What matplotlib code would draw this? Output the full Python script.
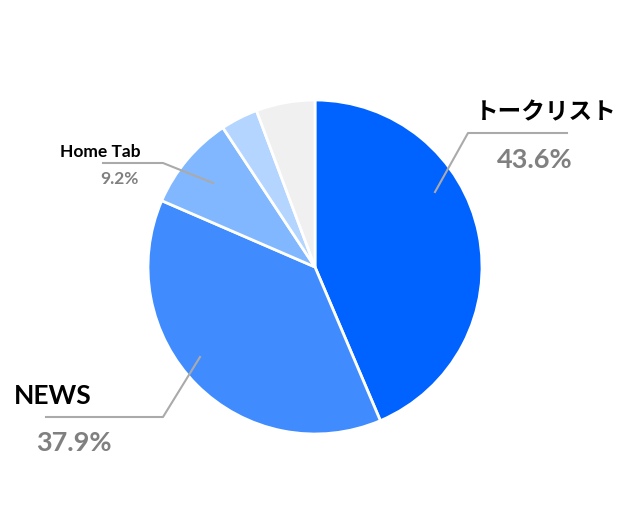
import matplotlib.pyplot as plt

# share of views by entry point
labels = ["トークリスト", "NEWS", "Home Tab", "その他A", "その他B"]
values = [43.6, 37.9, 9.2, 3.6, 5.7]
colors = ["#0062ff", "#408cff", "#80b7ff", "#b3d5ff", "#f0f0f0"]

plt.rcParams['font.family'] = ['Lato', 'Noto Sans CJK JP', 'DejaVu Sans']

W, H = 628, 511
fig = plt.figure(figsize=(W / 100, H / 100), dpi=100)
ax = fig.add_axes([0, 0, 1, 1])
ax.set_xlim(0, W)
ax.set_ylim(0, H)
ax.set_aspect('equal')
ax.axis('off')

def Y(py):
    return H - py

ax.pie(values, colors=colors, startangle=90, counterclock=False,
       center=(315, Y(267)), radius=167,
       wedgeprops=dict(edgecolor='white', linewidth=2))
ax.set_xlim(0, W)
ax.set_ylim(0, H)

line_kw = dict(color='#aaaaaa', lw=1.5)

# トークリスト
ax.plot([435, 468, 567], [Y(192), Y(133), Y(133)], **line_kw)
ax.text(475, Y(112), labels[0], fontsize=17, fontweight='bold', color='black',
        va='center', ha='left', family=['Noto Sans CJK JP', 'DejaVu Sans'])
ax.text(535, Y(160), f"{values[0]}%", fontsize=19.5, fontweight='bold', color='#808080',
        va='center', ha='center')

# NEWS
ax.plot([200, 163, 46], [Y(357), Y(417), Y(417)], **line_kw)
ax.text(14, Y(396), labels[1], fontsize=19, fontweight='bold', color='black',
        va='center', ha='left')
ax.text(74, Y(443), f"{values[1]}%", fontsize=19.5, fontweight='bold', color='#808080',
        va='center', ha='center')

# Home Tab
ax.plot([213, 163, 103], [Y(183), Y(163), Y(163)], **line_kw)
ax.text(60, Y(152), labels[2], fontsize=12.5, fontweight='bold', color='black',
        va='center', ha='left')
ax.text(119, Y(179), f"{values[2]}%", fontsize=12.5, fontweight='bold', color='#808080',
        va='center', ha='center')

fig.savefig('out.png', dpi=100)
